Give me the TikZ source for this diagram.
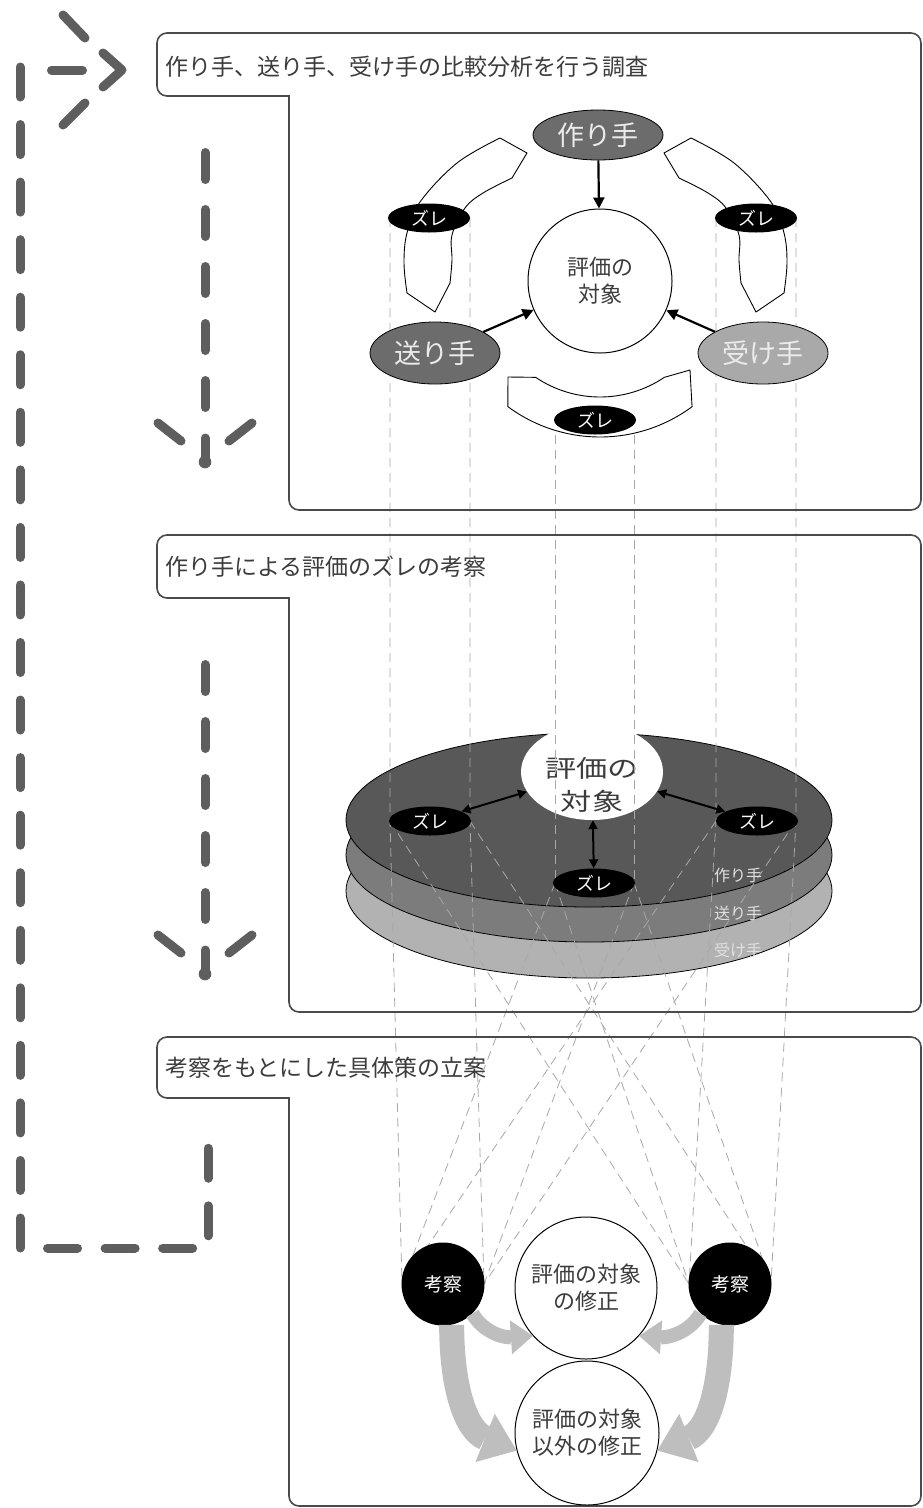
\documentclass[tikz,border=0pt]{standalone}
\usepackage{fontspec}
\usepackage{graphicx}
\newfontfamily\jp{Noto Sans CJK JP}
\usetikzlibrary{arrows.meta,calc,shapes.geometric}
\definecolor{bordercol}{HTML}{4A4A4A}
\definecolor{dashcol}{HTML}{5E5E5E}
\definecolor{textcol}{HTML}{3C3C3C}
\definecolor{partydark}{HTML}{6C6C6C}
\definecolor{partylight}{HTML}{A9A9A9}
\definecolor{layerA}{HTML}{585858}
\definecolor{layerB}{HTML}{7C7C7C}
\definecolor{layerC}{HTML}{B2B2B2}
\definecolor{guide}{HTML}{A8A8A8}
\definecolor{fatgray}{HTML}{BEBEBE}
\begin{document}
\begin{tikzpicture}[x=1pt,y=-1pt,
  panel/.style={draw=bordercol, line width=1.6pt, rounded corners=10pt, line cap=rect},
  bigdash/.style={draw=dashcol, line width=9pt, line cap=round, dash pattern=on 27pt off 30pt},
  loopdash/.style={draw=dashcol, line width=9pt, line cap=round, line join=round, dash pattern=on 30pt off 27.55pt},
  stroke/.style={draw=dashcol, line width=9pt, line cap=round, line join=round},
  guideline/.style={draw=guide, line width=0.8pt, dash pattern=on 9pt off 6pt},
  zure/.style={ellipse, fill=black, minimum width=82pt, minimum height=29pt, inner sep=0pt, text=white, font=\jp\fontsize{18}{18}\selectfont},
  party/.style={ellipse, draw=black, line width=0.8pt, minimum width=130pt, minimum height=62pt, inner sep=0pt, text=white!92!black, font=\jp\fontsize{27}{27}\selectfont},
  band/.style={draw=black, fill=white, line width=0.9pt, line join=round},
  blackarrow/.style={draw=black, line width=2.2pt, -{Triangle[length=11pt,width=11pt]}},
  dblarrow/.style={draw=black, line width=2pt, {Triangle[length=9pt,width=9pt]}-{Triangle[length=9pt,width=9pt]}},
  title/.style={anchor=west, text=textcol, font=\jp\fontsize{23}{23}\selectfont, inner sep=0pt},
  evalcircle/.style={circle, draw=black, fill=white, line width=1pt, inner sep=0pt},
  evaltext/.style={text=textcol, align=center, font=\jp\fontsize{22}{27}\selectfont},
  kousatsu/.style={circle, fill=black, minimum size=83pt, inner sep=0pt, text=white, font=\jp\fontsize{19}{19}\selectfont},
  disklabel/.style={text=white!88!black, font=\jp\fontsize{16}{16}\selectfont, inner sep=0pt},
  fatsmall/.style={draw=fatgray, line width=14pt, -{Triangle[width=34pt,length=22pt,line width=0pt]}},
  fatbig/.style={draw=fatgray, line width=25pt, -{Triangle[width=52pt,length=34pt,line width=0pt]}}
]
\useasboundingbox (0,0) rectangle (923,1508);
\fill[white] (0,0) rectangle (923,1508);

% ---------- middle disk (drawn early, guide lines pass over it)
\filldraw[fill=layerC, draw=black, line width=0.8pt] (589,891) ellipse [x radius=243, y radius=87];
\filldraw[fill=layerB, draw=black, line width=0.8pt] (589,855) ellipse [x radius=243, y radius=87];
\filldraw[fill=layerA, draw=black, line width=0.8pt] (589,820) ellipse [x radius=243, y radius=87];
\node[ellipse, fill=white, minimum width=142pt, minimum height=96pt, inner sep=0pt] (dEval) at (592,772) {};
\node[text=textcol, font=\jp\fontsize{24}{24}\selectfont, inner sep=0pt] (dEvalA) at (592,768) {\scalebox{1.3}[1]{評価の}};
\node[text=textcol, font=\jp\fontsize{24}{24}\selectfont, inner sep=0pt] (dEvalB) at (592,801) {\scalebox{1.3}[1]{対象}};

% ---------- guide coordinates
\coordinate (zLa) at (390,218); \coordinate (zLb) at (470,218);
\coordinate (zRa) at (716,218); \coordinate (zRb) at (796,218);
\coordinate (zBa) at (555,420); \coordinate (zBb) at (634,420);
\coordinate (dLa) at (390,821); \coordinate (dLb) at (470,821);
\coordinate (dRa) at (716,821); \coordinate (dRb) at (796,821);
\coordinate (dBa) at (555,883); \coordinate (dBb) at (634,883);
\coordinate (kLa) at (402,1284); \coordinate (kLb) at (484,1284);
\coordinate (kRa) at (689,1284); \coordinate (kRb) at (771,1284);

\draw[guideline] (zLa) -- (dLa) -- (kLa);
\draw[guideline] (zLb) -- (dLb) -- (kLb);
\draw[guideline] (zRa) -- (dRa) -- (kRa);
\draw[guideline] (zRb) -- (dRb) -- (kRb);
\draw[guideline] (zBa) -- (dBa);
\draw[guideline] (zBb) -- (dBb);
\draw[guideline] (dLa) -- (kRa);
\draw[guideline] (dLb) -- (kRb);
\draw[guideline] (dRa) -- (kLa);
\draw[guideline] (dRb) -- (kLb);
\draw[guideline] (dBa) -- (kLa);
\draw[guideline] (dBa) -- (kRa);
\draw[guideline] (dBb) -- (kLb);
\draw[guideline] (dBb) -- (kRb);

% ---------- panels
\draw[panel] (289,96) -- (157,96) -- (157,33) -- (921,33) -- (921,510) -- (289,510) -- (289,96);
\draw[panel] (289,598) -- (157,598) -- (157,535) -- (921,535) -- (921,1012) -- (289,1012) -- (289,598);
\draw[panel] (289,1098) -- (157,1098) -- (157,1037) -- (921,1037) -- (921,1506) -- (289,1506) -- (289,1098);

\node[title] (t1) at (165,67) {作り手、送り手、受け手の比較分析を行う調査};
\node[title] (t2) at (165,567) {作り手による評価のズレの考察};
\node[title] (t3) at (165,1068) {考察をもとにした具体策の立案};

% ---------- big dashed arrows
\draw[loopdash] (20,67) -- (20,1248) -- (208,1248) -- (208,1142);
\draw[stroke] (51.5,70) -- (82.5,70);
\draw[stroke] (103,53) -- (122,70) -- (103,87);
\draw[stroke] (63,15) -- (85,38);
\draw[stroke] (63,125) -- (85,103);

\foreach \dy in {0,512}{
  \draw[bigdash] (205,152.5+\dy) -- (205,410+\dy);
  \draw[stroke] (158,423+\dy) -- (181,441+\dy);
  \draw[stroke] (252,423+\dy) -- (229,441+\dy);
  \draw[stroke] (205,438+\dy) -- (205,460+\dy);
  \fill[dashcol] (205,462+\dy) circle [radius=6.3];
}

% ---------- panel 1 content
\draw[band] (407,293) -- plot[smooth, tension=0.6] coordinates {(407,293) (404,263) (407,233) (420,202) (457,163) (500,138)}
   -- (527,153) -- plot[smooth, tension=0.6] coordinates {(512,178) (483,193) (465,208) (452,235) (452,260) (450,283)}
   -- (435,312) -- cycle;
\draw[band] (784,293) -- plot[smooth, tension=0.6] coordinates {(784,293) (787,263) (784,233) (771,202) (734,163) (691,138)}
   -- (664,153) -- plot[smooth, tension=0.6] coordinates {(679,178) (708,193) (726,208) (739,235) (739,260) (741,283)}
   -- (756,312) -- cycle;
\draw[band] (508,377) -- ($(600,282)+(124:115)$) arc[start angle=124,end angle=56,radius=115]
   -- (690,370) -- (692,406) -- ($(600,282)+(53.5:155)$) arc[start angle=53.5,end angle=126.5,radius=155] -- cycle;

\node[evalcircle, minimum size=144pt, evaltext] (eval1) at (600,281) {評価の\\対象};
\node[party, fill=partydark, minimum height=50pt] (tsukuri) at (598,135) {作り手};
\node[party, fill=partydark] (okuri) at (435,353) {送り手};
\node[party, fill=partylight] (uke) at (763,353) {受け手};
\draw[blackarrow] (tsukuri) -- (eval1);
\draw[blackarrow] (okuri) -- (eval1);
\draw[blackarrow] (uke) -- (eval1);

\node[zure] (zL) at (429,218) {ズレ};
\node[zure] (zR) at (756,218) {ズレ};
\node[zure] (zB) at (595,420) {ズレ};

% ---------- disk content
\node[zure] (dzL) at (430,821) {ズレ};
\node[zure] (dzR) at (757,821) {ズレ};
\node[zure] (dzB) at (594,883) {ズレ};
\draw[dblarrow] (dzL) -- (dEval);
\draw[dblarrow] (dzR) -- (dEval);
\draw[dblarrow] (dzB) -- (dEval);
\node[disklabel] (lA) at (738,875) {作り手};
\node[disklabel] (lB) at (738,913) {送り手};
\node[disklabel] (lC) at (738,950) {受け手};

% ---------- panel 3 content
\node[kousatsu] (kL) at (443,1284) {考察};
\node[kousatsu] (kR) at (730,1284) {考察};
\node[evalcircle, minimum size=142pt, evaltext] (mod1) at (586,1288) {評価の対象\\の修正};
\node[evalcircle, minimum size=144pt, evaltext] (mod2) at (587,1433) {評価の対象\\以外の修正};
\draw[fatsmall] (kL.-45) .. controls +(10,18) and +(-30,2) .. (mod1.222);
\draw[fatsmall] (kR.-135) .. controls +(-10,18) and +(30,2) .. (mod1.-42);
\draw[fatbig] (kL.-78) .. controls +(0,65) and +(-50,-20) .. (mod2.194);
\draw[fatbig] (kR.-102) .. controls +(0,65) and +(50,-20) .. (mod2.-14);
\end{tikzpicture}
\end{document}
